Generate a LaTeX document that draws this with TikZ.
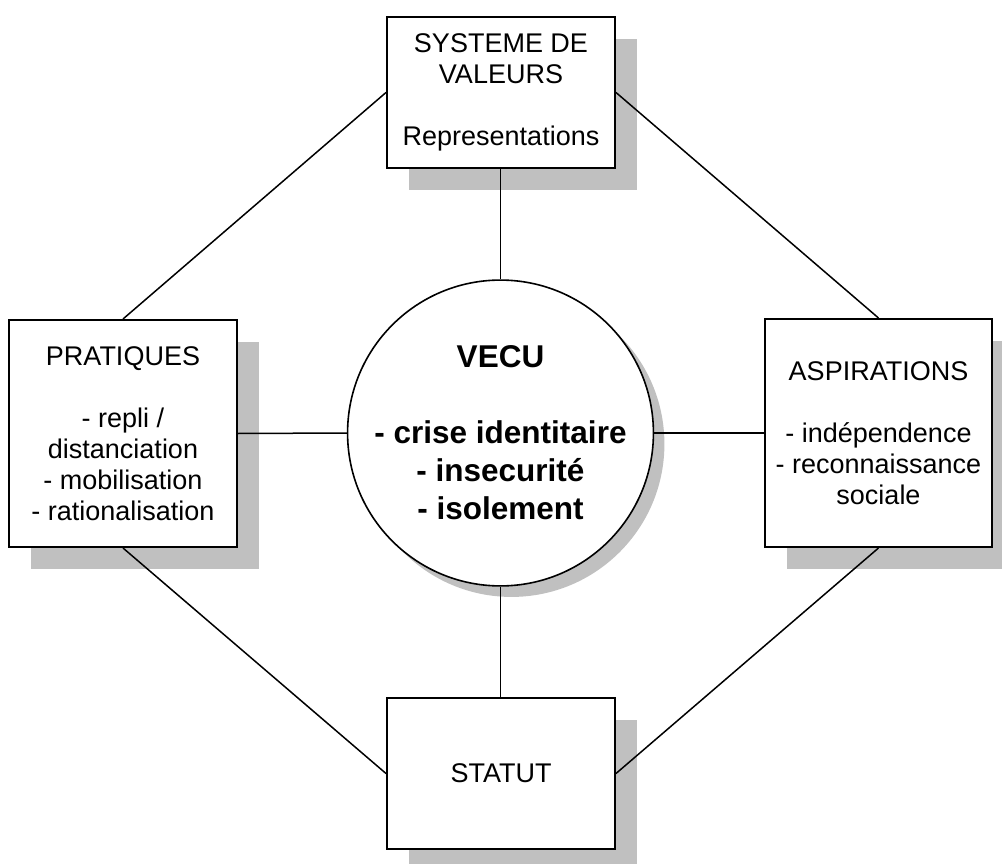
\documentclass[tikz,border=0pt]{standalone}
\usepackage{fontspec}
\setmainfont{Liberation Sans}
\usetikzlibrary{shadows}
\definecolor{shadowgray}{RGB}{192,192,192}
\begin{document}
\begin{tikzpicture}[x=1pt,y=-1pt,
  grayshadow/.style={drop shadow={shadow xshift=#1, shadow yshift=-#1, fill=shadowgray, opacity=1}},
  panel/.style={draw, line width=2pt, fill=white, inner sep=0pt, align=center,
    font=\fontsize{27}{31}\selectfont, grayshadow=22pt},
  hub/.style={circle, draw, line width=1.6pt, fill=white, inner sep=0pt, align=center,
    minimum size=304pt, font=\fontsize{31.5}{38}\selectfont\bfseries, grayshadow=11pt},
  link/.style={line width=1.5pt}]
  \useasboundingbox (0,0) rectangle (1002,864);
  \clip (0,0) rectangle (1002,864);

  % four surrounding boxes
  \node[panel, minimum width=228pt, minimum height=151pt] (valeurs) at (501,92.5)
    {SYSTEME DE\\VALEURS\\[31pt]Representations};
  \node[panel, minimum width=228pt, minimum height=227pt] (pratiques) at (123,433.5)
    {PRATIQUES\\[31pt]- repli /\\distanciation\\- mobilisation\\- rationalisation};
  \node[panel, minimum width=227pt, minimum height=228pt] (aspirations) at (878.5,433)
    {ASPIRATIONS\\[31pt]- indépendence\\- reconnaissance\\sociale};
  \node[panel, minimum width=228pt, minimum height=151pt] (statut) at (501,773.5)
    {STATUT};

  % central circle
  \node[hub] (vecu) at (500.5,433)
    {VECU\\[38pt]- crise identitaire\\- insecurité\\- isolement};

  % spokes from the circle
  \draw[link] (valeurs.south -| vecu.north) -- (vecu.north);
  \draw[link] (vecu.south) -- (vecu.south |- statut.north);
  \draw[link] (pratiques.east) -- (vecu.west);
  \draw[link] (vecu.east) -- (aspirations.west);

  % outer diamond
  \draw[link] (valeurs.west) -- (pratiques.north);
  \draw[link] (valeurs.east) -- (aspirations.north);
  \draw[link] (pratiques.south) -- (statut.west);
  \draw[link] (aspirations.south) -- (statut.east);
\end{tikzpicture}
\end{document}
